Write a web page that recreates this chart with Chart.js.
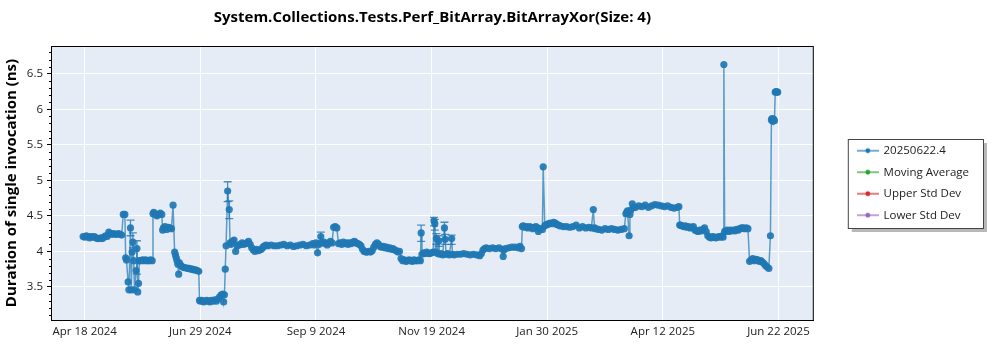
<!DOCTYPE html>
<html>
<head>
<meta charset="utf-8">
<script src="https://cdn.jsdelivr.net/npm/chart.js@4.4.1/dist/chart.umd.min.js"></script>
<style>
  html, body { margin: 0; padding: 0; background: #fff; }
</style>
</head>
<body>
<canvas id="perfChart" width="1000" height="350"></canvas>
<script>
const chartTitle = 'System.Collections.Tests.Perf_BitArray.BitArrayXor(Size: 4)';
const yAxisTitle = 'Duration of single invocation (ns)';
const seriesNames = ['20250622.4', 'Moving Average', 'Upper Std Dev', 'Lower Std Dev'];
const seriesColors = ['#1f77b4', '#2ca02c', '#d62728', '#9467bd'];

// x values are days counted from Apr 18 2024
const xTickDays = [0, 72, 144, 216, 288, 360, 432];
const xTickLabels = ['Apr 18 2024', 'Jun 29 2024', 'Sep 9 2024', 'Nov 19 2024', 'Jan 30 2025', 'Apr 12 2025', 'Jun 22 2025'];

const runDays = [
  -1, 0, 1, 2, 3, 4, 5, 6, 7, 8, 9, 10, 11, 12, 13, 14, 15, 16, 17, 18, 19, 20, 21, 22, 23, 24, 25,
  25.5, 26, 27, 27.5, 28.5, 29, 29.5, 30, 30.5, 31, 32, 32.5, 33, 33.5, 34,
  35, 36, 37, 38, 39, 40, 41, 42, 42.5, 43, 44, 45, 46, 47, 48, 48.5, 49, 50, 51, 52, 53, 54, 55,
  56, 56.5, 57, 57.5, 58, 58.5, 59, 60, 61, 62, 63, 64, 65, 66, 67, 68, 69, 70, 71,
  71.5, 72, 73, 74, 75, 76, 77, 78, 79, 80, 81, 82, 83, 84, 85, 86, 86.5, 87, 87.5, 88, 89, 90, 90.5,
  91, 92, 93, 94, 95, 96, 97, 98, 99, 100, 101, 102, 103, 104, 105, 106, 107, 108, 109, 110,
  111, 112, 113, 114, 116, 118, 120, 122, 124, 126, 128, 130, 132, 134, 136, 138, 140, 142, 143, 144,
  145, 146, 147, 148, 149, 150, 151, 152, 153, 154, 155, 156, 157, 158, 159, 160, 161, 162, 163, 164,
  165, 166, 167, 168, 169, 170, 171, 172, 173, 174, 175, 176, 177, 178, 179, 180, 181, 182, 183, 184,
  185, 186, 187, 188, 189, 190, 191, 192, 193, 194, 195, 196, 197, 198, 199, 200, 201, 202, 203, 204,
  205, 206, 207, 208, 209, 209.5, 210, 211, 212, 213, 214, 215, 216, 217, 217.5, 218, 218.5, 219, 219.7, 220.5,
  221, 222, 223, 224, 224.5, 225, 226, 227, 228.5, 229, 230, 232, 234, 236, 238, 240, 242, 244, 246, 247,
  248, 249, 250, 252, 254, 256, 258, 260, 260.6, 261, 262, 264, 266, 268, 270, 271, 272,
  272.5, 273, 274, 275, 276, 277, 278, 279, 280, 281, 282, 282.5, 283.5, 285, 285.5, 286.5, 287, 288, 289, 290,
  291, 292, 293, 294, 295, 296, 298, 300, 302, 304, 306, 308, 310, 312, 314, 315.5, 316.7, 317.5, 318, 320,
  322, 324, 326, 328, 330, 332, 334, 336, 337, 337.5, 338, 339, 339.5, 340, 341, 342, 343, 345, 347, 349,
  351, 353, 355, 357, 359, 361, 363, 365, 367, 369, 370, 370.5, 371, 372, 373, 374, 375, 376, 377, 378,
  379, 380, 381, 382, 383, 384, 385, 386, 387, 388, 389, 390, 391, 392, 393, 394, 395, 396, 397, 397.5,
  398, 398.5, 399, 400, 401, 402, 403, 404, 405, 406, 407, 408, 409, 410, 411, 412, 413, 414, 415, 416,
  417, 418, 419, 420, 421, 422, 423, 424, 425, 426, 427, 427.6, 428, 428.5, 429, 429.5, 430, 430.5, 431, 431.5
];
const runValues = [
  4.21, 4.20, 4.22, 4.21, 4.19, 4.21, 4.20, 4.21, 4.19, 4.18, 4.18, 4.19, 4.18, 4.20, 4.22, 4.21, 4.27, 4.25, 4.24, 4.25, 4.24, 4.24, 4.25, 4.24, 4.23, 4.52, 4.52,
  3.91, 3.88, 3.57, 3.46, 4.33, 3.46, 3.99, 4.13, 3.87, 3.46, 3.73, 4.04, 3.43, 3.55, 3.87,
  3.87, 3.88, 3.87, 3.88, 3.87, 3.87, 3.88, 3.87, 4.53, 4.55, 4.52, 4.50, 4.52, 4.54, 4.52, 4.30, 4.33, 4.35, 4.31, 4.34, 4.33, 4.32, 4.65,
  3.99, 3.95, 3.91, 3.87, 3.82, 3.68, 3.84, 3.80, 3.78, 3.77, 3.77, 3.76, 3.76, 3.75, 3.75, 3.74, 3.74, 3.73, 3.72,
  3.31, 3.30, 3.31, 3.29, 3.30, 3.31, 3.30, 3.29, 3.31, 3.30, 3.32, 3.30, 3.33, 3.36, 3.39, 3.40, 3.29, 3.39, 3.75, 4.08, 4.85, 4.59, 4.12,
  4.10, 4.14, 4.16, 4.00, 4.08, 4.09, 4.10, 4.12, 4.10, 4.11, 4.12, 4.14, 4.10, 4.05, 4.02, 4.00, 4.03, 4.01, 4.02, 4.03,
  4.06, 4.08, 4.09, 4.08, 4.09, 4.08, 4.08, 4.09, 4.10, 4.08, 4.09, 4.07, 4.08, 4.09, 4.10, 4.08, 4.09, 4.11, 4.09, 4.12,
  3.98, 4.10, 4.21, 4.12, 4.13, 4.11, 4.09, 4.12, 4.14, 4.12, 4.34, 4.35, 4.33, 4.11, 4.12, 4.10, 4.13, 4.11, 4.12, 4.10,
  4.12, 4.11, 4.13, 4.14, 4.12, 4.11, 4.10, 4.08, 4.03, 4.00, 3.99, 3.99, 4.00, 3.99, 4.01, 4.06, 4.10, 4.12, 4.10, 4.07,
  4.06, 4.07, 4.05, 4.06, 4.04, 4.05, 4.03, 4.04, 4.02, 4.01, 3.99, 4.00, 3.90, 3.87, 3.88, 3.86, 3.87, 3.88, 3.87, 3.86,
  3.88, 3.87, 3.87, 3.88, 3.87, 4.26, 3.96, 3.98, 3.97, 3.99, 3.97, 3.97, 3.98, 3.99, 4.43, 4.39, 3.99, 4.18, 3.97, 4.15,
  3.96, 3.97, 3.95, 4.33, 4.17, 3.96, 3.97, 3.95, 4.18, 3.96, 3.95, 3.96, 3.96, 3.97, 3.96, 3.95, 3.96, 3.95, 3.94, 3.97,
  4.02, 4.04, 4.05, 4.04, 4.05, 4.04, 4.05, 4.03, 3.93, 4.02, 4.04, 4.05, 4.06, 4.06, 4.05, 4.07, 4.04,
  4.35, 4.36, 4.34, 4.35, 4.33, 4.35, 4.34, 4.32, 4.34, 4.35, 4.33, 4.28, 4.32, 4.31, 5.19, 4.36, 4.37, 4.38, 4.39, 4.40,
  4.39, 4.41, 4.40, 4.38, 4.37, 4.36, 4.35, 4.35, 4.34, 4.35, 4.37, 4.33, 4.35, 4.33, 4.34, 4.33, 4.59, 4.33, 4.32, 4.31,
  4.30, 4.32, 4.31, 4.32, 4.31, 4.30, 4.31, 4.32, 4.53, 4.55, 4.57, 4.22, 4.52, 4.58, 4.67, 4.62, 4.62, 4.64, 4.63, 4.65,
  4.62, 4.64, 4.66, 4.65, 4.64, 4.63, 4.64, 4.62, 4.61, 4.62, 4.63, 4.37, 4.37, 4.36, 4.35, 4.36, 4.34, 4.35, 4.33, 4.34,
  4.35, 4.30, 4.29, 4.28, 4.30, 4.29, 4.31, 4.33, 4.28, 4.22, 4.20, 4.19, 4.21, 4.20, 4.19, 4.20, 4.21, 4.20, 4.22, 4.20,
  6.63, 4.28, 4.29, 4.30, 4.28, 4.30, 4.29, 4.30, 4.29, 4.31, 4.30, 4.32, 4.33, 4.33, 4.32, 4.33, 4.32, 3.86, 3.88, 3.90,
  3.87, 3.89, 3.88, 3.86, 3.87, 3.85, 3.83, 3.80, 3.78, 3.76, 4.22, 5.85, 5.87, 5.83, 5.86, 5.84, 6.24, 6.25, 6.24, 6.24
];

// error bars on a few runs
const errDays = [28.5, 30, 32.5, 89, 90, 147, 209.5, 217.5, 218, 219, 220.5, 224, 224.5, 228.5];
const errLow  = [4.22, 4.05, 3.68, 4.70, 4.46, 4.15, 4.14, 4.36, 4.30, 4.10, 4.07, 4.18, 4.10, 4.10];
const errHigh = [4.44, 4.26, 4.15, 4.98, 4.71, 4.27, 4.37, 4.48, 4.45, 4.25, 4.22, 4.41, 4.24, 4.23];

const fontFamily = '"Open Sans", "Noto Sans", sans-serif';

function legendIcon(color) {
  const c = document.createElement('canvas');
  c.width = 22; c.height = 8;
  const g = c.getContext('2d');
  g.strokeStyle = color;
  g.lineWidth = 1.2;
  g.beginPath(); g.moveTo(0, 4); g.lineTo(22, 4); g.stroke();
  g.fillStyle = color;
  g.beginPath(); g.arc(11, 4, 2.4, 0, Math.PI * 2); g.fill();
  return c;
}
const legendIcons = seriesColors.map(legendIcon);

const plotBackground = {
  id: 'plotBackground',
  beforeDraw(chart) {
    const {ctx, chartArea: a} = chart;
    ctx.save();
    ctx.fillStyle = '#e5ecf6';
    ctx.fillRect(a.left, a.top, a.right - a.left, a.bottom - a.top);

    // legend frame with shadow
    const boxes = chart.legend && chart.legend.legendHitBoxes;
    if (boxes && boxes.length) {
      const left = boxes[0].left - 10;
      const top = boxes[0].top - 6;
      const right = Math.max(...boxes.map(b => b.left + b.width)) + 14;
      const last = boxes[boxes.length - 1];
      const bottom = last.top + last.height + 7;
      ctx.fillStyle = 'rgba(0,0,0,0.28)';
      ctx.fillRect(left + 4, top + 4, right - left, bottom - top);
      ctx.fillStyle = '#fff';
      ctx.fillRect(left, top, right - left, bottom - top);
      ctx.strokeStyle = '#444';
      ctx.lineWidth = 1;
      ctx.strokeRect(left + 0.5, top + 0.5, right - left, bottom - top);
    }
    ctx.restore();
  },
  afterDraw(chart) {
    const {ctx, chartArea: a} = chart;
    const y = chart.scales.y;
    ctx.save();
    ctx.strokeStyle = '#000';
    ctx.lineWidth = 1;
    ctx.strokeRect(a.left + 0.5, a.top + 0.5, a.right - a.left - 1, a.bottom - a.top);
    // minor ticks every 0.1 on the y axis
    ctx.beginPath();
    for (let k = Math.ceil(y.min * 10); k <= Math.floor(y.max * 10); k++) {
      if (k % 5 === 0) continue;
      const py = Math.round(y.getPixelForValue(k / 10)) + 0.5;
      ctx.moveTo(a.left - 2, py);
      ctx.lineTo(a.left, py);
    }
    ctx.stroke();
    ctx.restore();
  }
};

const errorBars = {
  id: 'errorBars',
  afterDatasetsDraw(chart) {
    const {ctx} = chart;
    const xs = chart.scales.x, ys = chart.scales.y;
    ctx.save();
    ctx.strokeStyle = 'rgba(31,119,180,0.8)';
    ctx.lineWidth = 1.3;
    errDays.forEach((d, i) => {
      const px = xs.getPixelForValue(d);
      const lo = ys.getPixelForValue(errLow[i]);
      const hi = ys.getPixelForValue(errHigh[i]);
      ctx.beginPath();
      ctx.moveTo(px, lo); ctx.lineTo(px, hi);
      ctx.moveTo(px - 4, lo); ctx.lineTo(px + 4, lo);
      ctx.moveTo(px - 4, hi); ctx.lineTo(px + 4, hi);
      ctx.stroke();
    });
    ctx.restore();
  }
};

const runData = runDays.map((d, i) => ({x: d, y: runValues[i]}));

new Chart(document.getElementById('perfChart'), {
  type: 'line',
  data: {
    datasets: seriesNames.map((name, i) => ({
      label: name,
      data: i === 0 ? runData : [],
      borderColor: i === 0 ? 'rgba(31,119,180,0.7)' : seriesColors[i],
      backgroundColor: seriesColors[i],
      borderWidth: 1.5,
      pointRadius: 3.6,
      pointBorderWidth: 0,
      pointBackgroundColor: i === 0 ? 'rgba(31,119,180,0.92)' : seriesColors[i],
      tension: 0,
      fill: false
    }))
  },
  options: {
    responsive: false,
    animation: false,
    layout: { padding: { left: 0, right: 21, top: 0, bottom: 0 } },
    plugins: {
      title: {
        display: true,
        text: chartTitle,
        fullSize: false,
        color: '#000',
        font: { family: fontFamily, size: 15, weight: 'bold' },
        padding: { top: 9, bottom: 19 }
      },
      legend: {
        position: 'right',
        fullSize: false,
        labels: {
          usePointStyle: true,
          pointStyleWidth: 20,
          padding: 10,
          color: '#222',
          font: { family: fontFamily, size: 11.5 },
          generateLabels(chart) {
            const items = Chart.defaults.plugins.legend.labels.generateLabels(chart);
            items.forEach((it, i) => { it.pointStyle = legendIcons[i]; });
            return items;
          }
        }
      },
      tooltip: { enabled: false }
    },
    scales: {
      x: {
        type: 'linear',
        min: -21,
        max: 454,
        afterBuildTicks(scale) { scale.ticks = xTickDays.map(v => ({value: v})); },
        afterFit(scale) { scale.height = 30; },
        ticks: {
          autoSkip: false,
          maxRotation: 0,
          padding: 5,
          color: '#222',
          font: { family: fontFamily, size: 11.5 },
          callback(v) { return xTickLabels[xTickDays.indexOf(v)]; }
        },
        grid: { color: '#fff', lineWidth: 1, drawTicks: false },
        border: { color: '#000' }
      },
      y: {
        min: 3.035,
        max: 6.89,
        afterFit(scale) { scale.width = 51; },
        ticks: {
          stepSize: 0.5,
          includeBounds: false,
          autoSkip: false,
          padding: 4,
          color: '#222',
          font: { family: fontFamily, size: 11.5 },
          callback(v) { return String(v); }
        },
        grid: { color: '#fff', lineWidth: 1, tickLength: 4, tickColor: '#000' },
        border: { color: '#000' },
        title: {
          display: true,
          text: yAxisTitle,
          color: '#000',
          font: { family: fontFamily, size: 15, weight: 'bold' },
          padding: { top: 3, bottom: 0 }
        }
      },
      y2: {
        position: 'right',
        afterFit(scale) { scale.width = 34; },
        ticks: { display: false },
        grid: { display: false, drawTicks: false },
        border: { display: false }
      }
    }
  },
  plugins: [plotBackground, errorBars]
});
</script>
</body>
</html>
